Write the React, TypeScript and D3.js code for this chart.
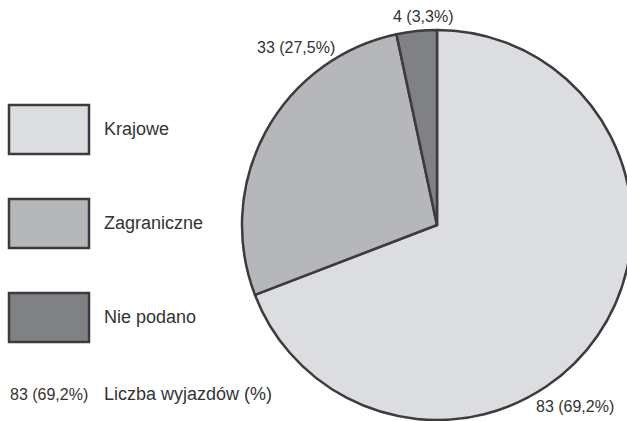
import React from "react";
import * as d3 from "d3";

const categories = ["Krajowe", "Zagraniczne", "Nie podano"];
const values = [83, 33, 4];
const sliceLabels = ["83 (69,2%)", "33 (27,5%)", "4 (3,3%)"];
const colors = ["#dcdde0", "#b6b7ba", "#808185"];
const legendNote = ["83 (69,2%)", "Liczba wyjazdów (%)"];

// layout only
const W = 627, H = 421;
const cx = 437, cy = 225, R = 195;
const labelPos: [number, number][] = [[536, 412], [257, 53], [393, 22]];
const legendY = [105, 199, 293];
const FONT = "'Liberation Sans', Arial, Helvetica, sans-serif";
const STROKE = "#3c3c3c";
const TEXT = "#333";

export default function App() {
  const pie = d3.pie<number>().sort(null).value((d) => d).startAngle(0).endAngle(2 * Math.PI);
  const arcs = pie(values);
  const arc = d3.arc<d3.PieArcDatum<number>>().innerRadius(0).outerRadius(R);
  return (
    <div style={{ position: "absolute", left: 0, top: 0 }}>
      <svg width={W} height={H} style={{ display: "block" }} fontFamily={FONT}>
        <rect width={W} height={H} fill="#fff" />
        <g transform={`translate(${cx},${cy})`}>
          {arcs.map((a, i) => (
            <path key={i} d={arc(a) || ""} fill={colors[i]} stroke={STROKE} strokeWidth={2.5} strokeLinejoin="round" />
          ))}
        </g>
        {sliceLabels.map((t, i) => (
          <text key={i} x={labelPos[i][0]} y={labelPos[i][1]} fontSize={16} fill={TEXT}>{t}</text>
        ))}
        {categories.map((c, i) => (
          <g key={c}>
            <rect x={9} y={legendY[i]} width={80} height={49} fill={colors[i]} stroke={STROKE} strokeWidth={2.5} />
            <text x={104} y={legendY[i] + 30} fontSize={18} fill={TEXT}>{c}</text>
          </g>
        ))}
        <text x={10} y={400} fontSize={16} fill={TEXT}>{legendNote[0]}</text>
        <text x={104} y={400} fontSize={18} fill={TEXT}>{legendNote[1]}</text>
      </svg>
    </div>
  );
}
